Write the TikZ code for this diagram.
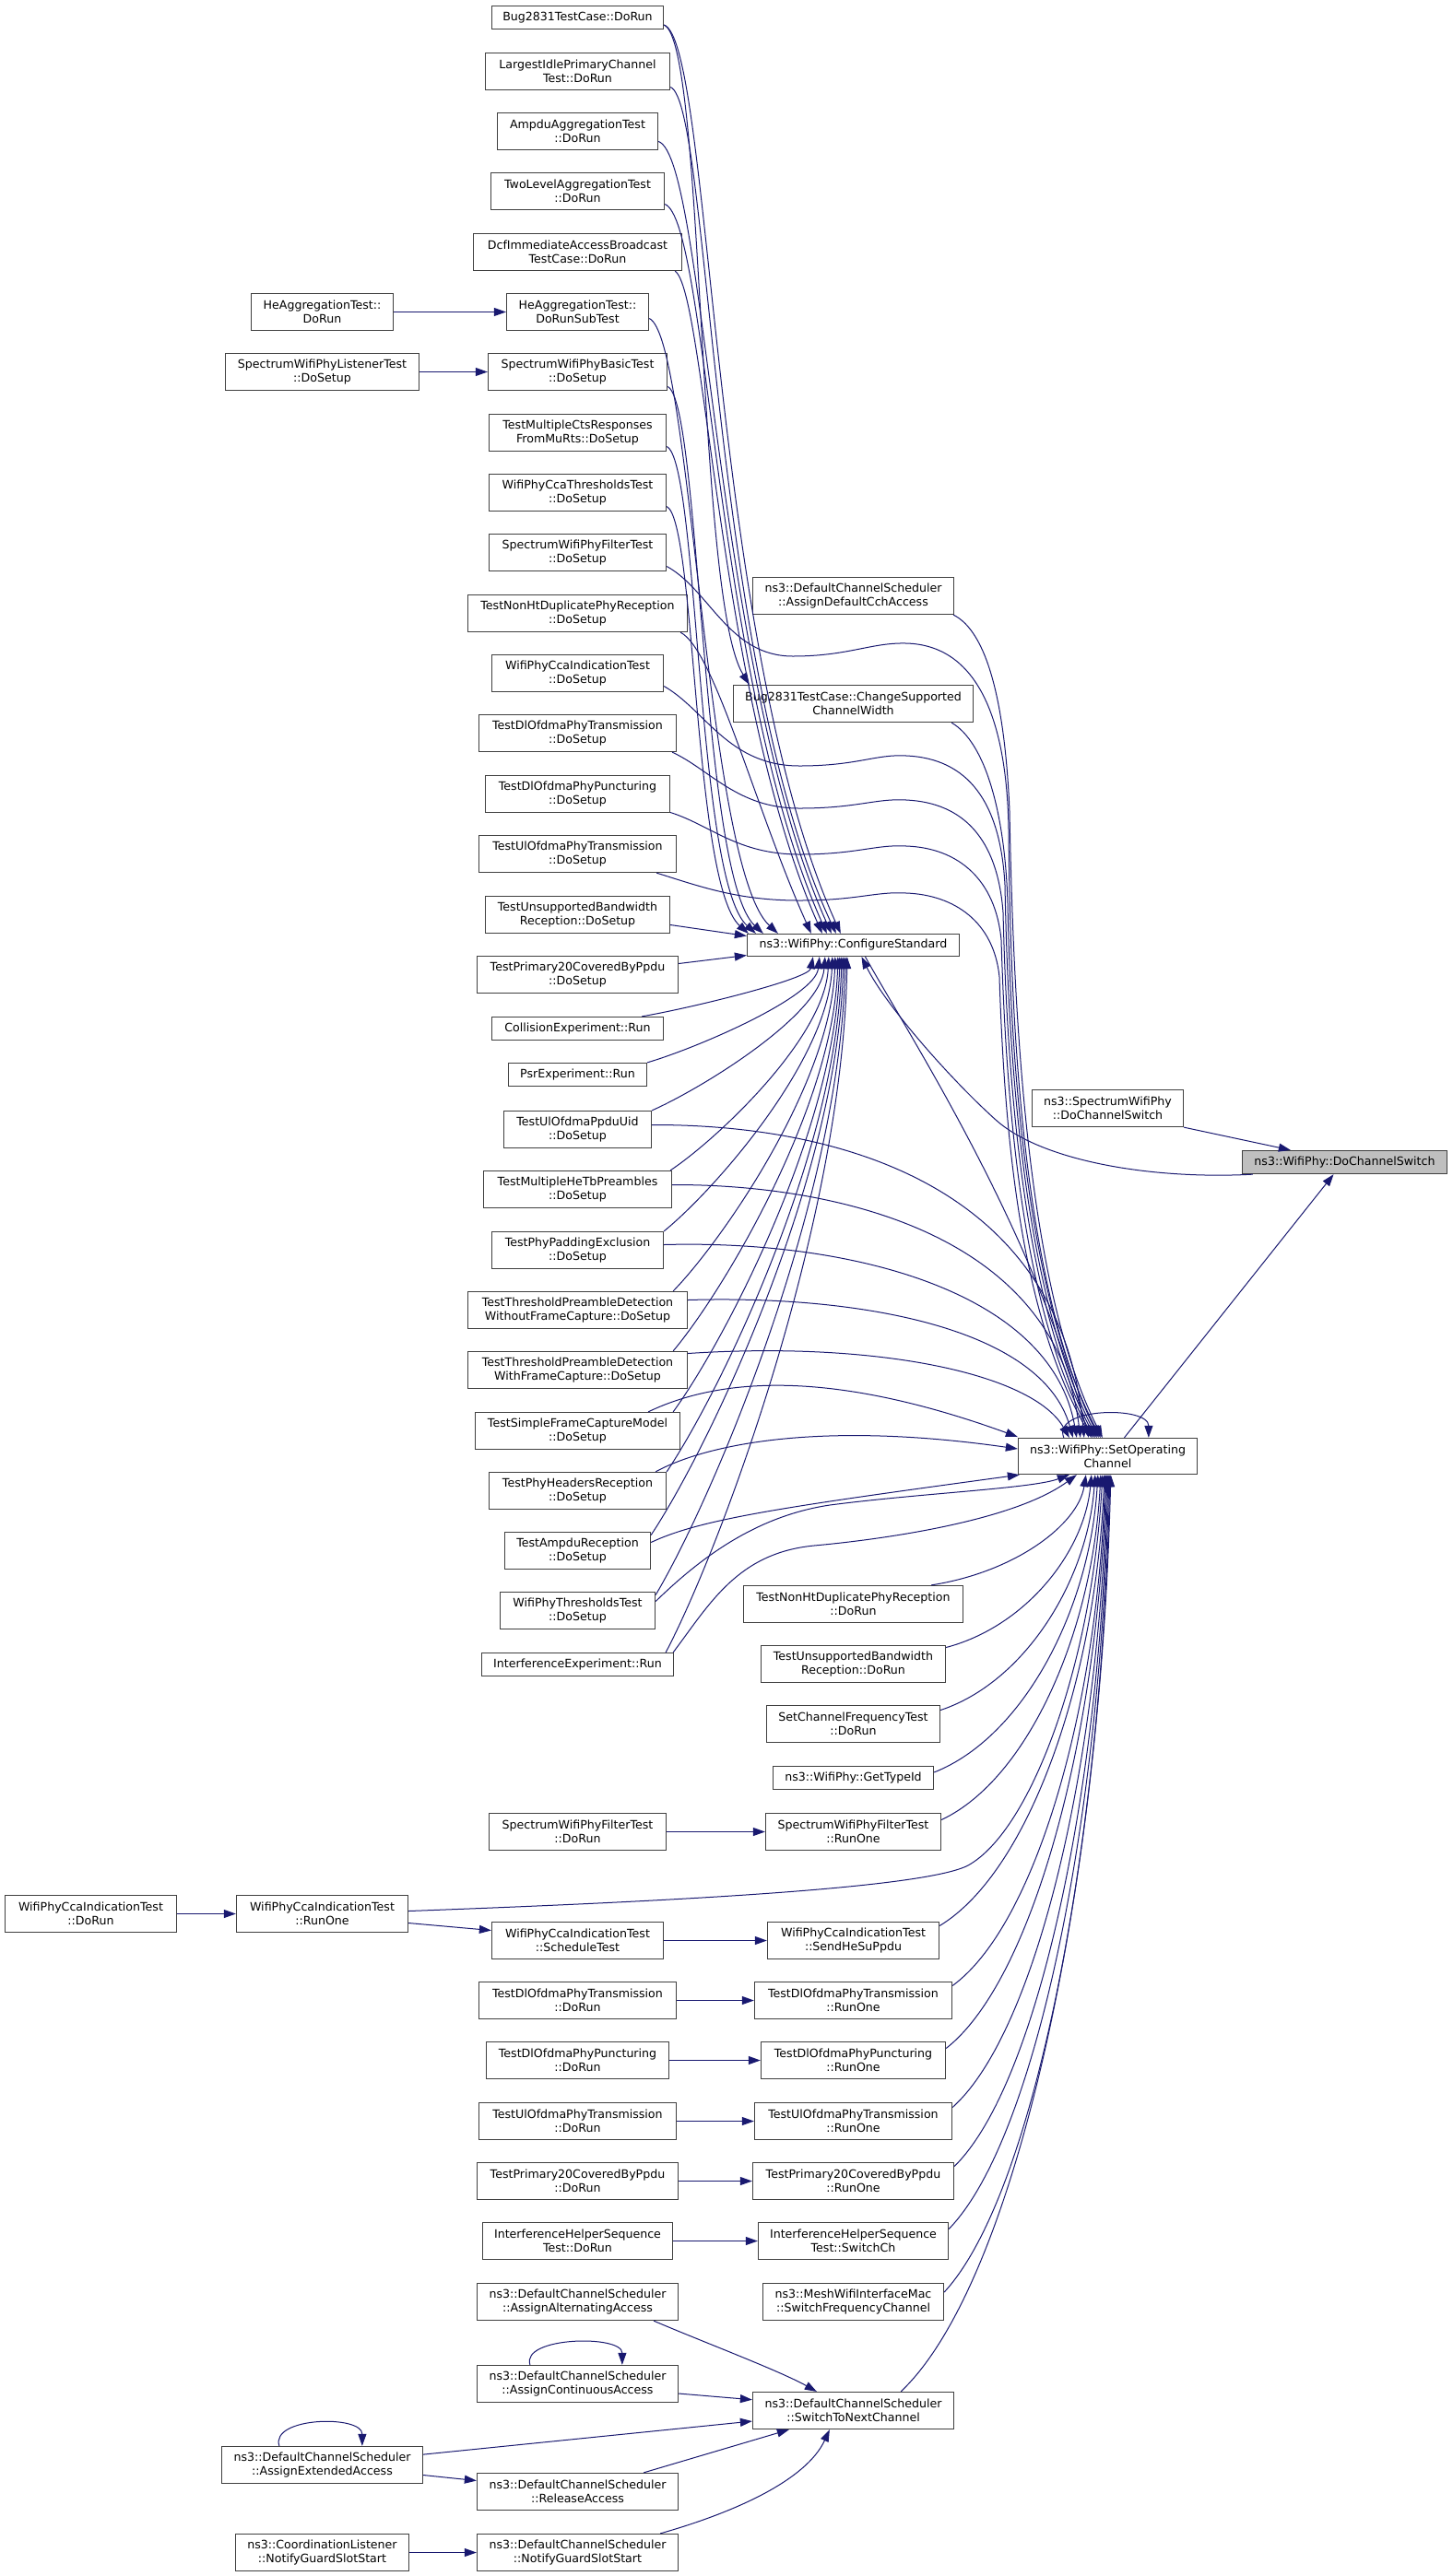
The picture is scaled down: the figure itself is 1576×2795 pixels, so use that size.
\documentclass[tikz,border=0pt]{standalone}
\usepackage{fontspec}
\setmainfont{DejaVu Sans}
\usetikzlibrary{arrows.meta,calc}
\definecolor{edgecol}{HTML}{191970}
\definecolor{boxcol}{HTML}{404040}
\definecolor{rootfill}{HTML}{BFBFBF}
\begin{document}
\begin{tikzpicture}[x=1pt,y=-1pt,
  box/.style={draw=boxcol,fill=white,line width=1.3pt,inner sep=0pt,align=center,
    font=\fontsize{12.6}{15}\selectfont,minimum height=40pt},
  one/.style={minimum height=25pt},
  edge/.style={draw=edgecol,line width=1pt,-{Triangle[length=13pt,width=9pt]}}]
\fill[white] (0,0) rectangle (1576,2795);
\useasboundingbox (0,0) rectangle (1576,2795);

% ---------- column B (upper) ----------
\node[box,one,minimum width=186pt] (b0) at (626.5,19) {Bug2831TestCase::DoRun};
\node[box,minimum width=200pt] (b1) at (626.5,77.5) {LargestIdlePrimaryChannel\\Test::DoRun};
\node[box,minimum width=174pt] (b2) at (626.5,142.5) {AmpduAggregationTest\\::DoRun};
\node[box,minimum width=188pt] (b3) at (626.5,207.5) {TwoLevelAggregationTest\\::DoRun};
\node[box,minimum width=226pt] (b4) at (626.5,273.5) {DcfImmediateAccessBroadcast\\TestCase::DoRun};
\node[box,minimum width=154pt] (b5) at (626.5,338.5) {HeAggregationTest::\\DoRunSubTest};
\node[box,minimum width=194pt] (b6) at (626.5,403.5) {SpectrumWifiPhyBasicTest\\::DoSetup};
\node[box,minimum width=192pt] (b7) at (626.5,469.5) {TestMultipleCtsResponses\\FromMuRts::DoSetup};
\node[box,minimum width=192pt] (b8) at (626.5,534.5) {WifiPhyCcaThresholdsTest\\::DoSetup};
\node[box,minimum width=192pt] (b9) at (626.5,599.5) {SpectrumWifiPhyFilterTest\\::DoSetup};
\node[box,minimum width=238pt] (b10) at (626.5,665.5) {TestNonHtDuplicatePhyReception\\::DoSetup};
\node[box,minimum width=186pt] (b11) at (626.5,730.5) {WifiPhyCcaIndicationTest\\::DoSetup};
\node[box,minimum width=214pt] (b12) at (626.5,795.5) {TestDlOfdmaPhyTransmission\\::DoSetup};
\node[box,minimum width=200pt] (b13) at (626.5,861.5) {TestDlOfdmaPhyPuncturing\\::DoSetup};
\node[box,minimum width=214pt] (b14) at (626.5,926.5) {TestUlOfdmaPhyTransmission\\::DoSetup};
\node[box,minimum width=200pt] (b15) at (626.5,992.5) {TestUnsupportedBandwidth\\Reception::DoSetup};
\node[box,minimum width=218pt] (b16) at (626.5,1057.5) {TestPrimary20CoveredByPpdu\\::DoSetup};
\node[box,one,minimum width=186pt] (b17) at (626.5,1116) {CollisionExperiment::Run};
\node[box,one,minimum width=150pt] (b18) at (626.5,1166) {PsrExperiment::Run};
\node[box,minimum width=160pt] (b19) at (626.5,1225.5) {TestUlOfdmaPpduUid\\::DoSetup};
\node[box,minimum width=204pt] (b20) at (626.5,1290.5) {TestMultipleHeTbPreambles\\::DoSetup};
\node[box,minimum width=186pt] (b21) at (626.5,1356.5) {TestPhyPaddingExclusion\\::DoSetup};
\node[box,minimum width=238pt] (b22) at (626.5,1421.5) {TestThresholdPreambleDetection\\WithoutFrameCapture::DoSetup};
\node[box,minimum width=238pt] (b23) at (626.5,1486.5) {TestThresholdPreambleDetection\\WithFrameCapture::DoSetup};
\node[box,minimum width=222pt] (b24) at (626.5,1552.5) {TestSimpleFrameCaptureModel\\::DoSetup};
\node[box,minimum width=192pt] (b25) at (626.5,1617.5) {TestPhyHeadersReception\\::DoSetup};
\node[box,minimum width=158pt] (b26) at (626.5,1682.5) {TestAmpduReception\\::DoSetup};
\node[box,minimum width=168pt] (b27) at (626.5,1747.5) {WifiPhyThresholdsTest\\::DoSetup};
\node[box,one,minimum width=208pt] (b28) at (626.5,1806) {InterferenceExperiment::Run};

% ---------- column B (lower) ----------
\node[box,minimum width=192pt] (l0) at (626.5,1987.5) {SpectrumWifiPhyFilterTest\\::DoRun};
\node[box,minimum width=186pt] (l1) at (626.5,2105.5) {WifiPhyCcaIndicationTest\\::ScheduleTest};
\node[box,minimum width=214pt] (l2) at (626.5,2170.5) {TestDlOfdmaPhyTransmission\\::DoRun};
\node[box,minimum width=198pt] (l3) at (626.5,2235.5) {TestDlOfdmaPhyPuncturing\\::DoRun};
\node[box,minimum width=214pt] (l4) at (626.5,2301.5) {TestUlOfdmaPhyTransmission\\::DoRun};
\node[box,minimum width=218pt] (l5) at (626.5,2366.5) {TestPrimary20CoveredByPpdu\\::DoRun};
\node[box,minimum width=206pt] (l6) at (626.5,2431.5) {InterferenceHelperSequence\\Test::DoRun};
\node[box,minimum width=218pt] (l7) at (626.5,2497.5) {ns3::DefaultChannelScheduler\\::AssignAlternatingAccess};
\node[box,minimum width=218pt] (l8) at (626.5,2586.5) {ns3::DefaultChannelScheduler\\::AssignContinuousAccess};
\node[box,minimum width=218pt] (l9) at (626.5,2703.5) {ns3::DefaultChannelScheduler\\::ReleaseAccess};
\node[box,minimum width=218pt] (l10) at (626.5,2769.5) {ns3::DefaultChannelScheduler\\::NotifyGuardSlotStart};

% ---------- column A ----------
\node[box,minimum width=154pt] (a0) at (349.5,338.5) {HeAggregationTest::\\DoRun};
\node[box,minimum width=210pt] (a1) at (349.5,403.5) {SpectrumWifiPhyListenerTest\\::DoSetup};
\node[box,minimum width=186pt] (a2) at (349.5,2076.5) {WifiPhyCcaIndicationTest\\::RunOne};
\node[box,minimum width=218pt] (a3) at (349.5,2674.5) {ns3::DefaultChannelScheduler\\::AssignExtendedAccess};
\node[box,minimum width=188pt] (a4) at (349.5,2769.5) {ns3::CoordinationListener\\::NotifyGuardSlotStart};
\node[box,minimum width=186pt] (a5) at (98.5,2076.5) {WifiPhyCcaIndicationTest\\::DoRun};

% ---------- column C ----------
\node[box,minimum width=218pt] (c0) at (925.5,646.5) {ns3::DefaultChannelScheduler\\::AssignDefaultCchAccess};
\node[box,minimum width=260pt] (c1) at (925.5,763.5) {Bug2831TestCase::ChangeSupported\\ChannelWidth};
\node[box,minimum height=24pt,minimum width=230pt] (cs) at (925.5,1025.5) {ns3::WifiPhy::ConfigureStandard};
\node[box,minimum width=238pt] (c2) at (925.5,1740.5) {TestNonHtDuplicatePhyReception\\::DoRun};
\node[box,minimum width=200pt] (c3) at (925.5,1805.5) {TestUnsupportedBandwidth\\Reception::DoRun};
\node[box,minimum width=188pt] (c4) at (925.5,1870.5) {SetChannelFrequencyTest\\::DoRun};
\node[box,one,minimum width=174pt] (c5) at (925.5,1929) {ns3::WifiPhy::GetTypeId};
\node[box,minimum width=190pt] (c6) at (925.5,1987.5) {SpectrumWifiPhyFilterTest\\::RunOne};
\node[box,minimum width=186pt] (c7) at (925.5,2105.5) {WifiPhyCcaIndicationTest\\::SendHeSuPpdu};
\node[box,minimum width=214pt] (c8) at (925.5,2170.5) {TestDlOfdmaPhyTransmission\\::RunOne};
\node[box,minimum width=200pt] (c9) at (925.5,2235.5) {TestDlOfdmaPhyPuncturing\\::RunOne};
\node[box,minimum width=214pt] (c10) at (925.5,2301.5) {TestUlOfdmaPhyTransmission\\::RunOne};
\node[box,minimum width=218pt] (c11) at (925.5,2366.5) {TestPrimary20CoveredByPpdu\\::RunOne};
\node[box,minimum width=206pt] (c12) at (925.5,2431.5) {InterferenceHelperSequence\\Test::SwitchCh};
\node[box,minimum width=196pt] (c13) at (925.5,2497.5) {ns3::MeshWifiInterfaceMac\\::SwitchFrequencyChannel};
\node[box,minimum width=218pt] (c14) at (925.5,2615.5) {ns3::DefaultChannelScheduler\\::SwitchToNextChannel};

% ---------- columns D, E ----------
\node[box,minimum width=164pt] (d0) at (1201.5,1202.5) {ns3::SpectrumWifiPhy\\::DoChannelSwitch};
\node[box,minimum height=39pt,minimum width=194pt] (so) at (1201.5,1580) {ns3::WifiPhy::SetOperating\\Channel};
\node[box,one,fill=rootfill,minimum width=222pt] (root) at (1458.5,1261) {ns3::WifiPhy::DoChannelSwitch};

% ---------- edges: upper column B -> ConfigureStandard ----------
\draw[edge] ($(b0.east)+(0,8)$) .. controls (772,45) and (770,700) .. ($(cs.north west)+(102,0)$);
\draw[edge] ($(b0.east)+(0,8)$) .. controls (765,45) and (755,650) .. ($(c1.north west)+(18,0)$);
\draw[edge] ($(b1.east)+(0,17)$) .. controls (770,110) and (770,720) .. ($(cs.north west)+(97,0)$);
\draw[edge] ($(b2.east)+(0,11)$) .. controls (765,170) and (775,730) .. ($(cs.north west)+(92,0)$);
\draw[edge] ($(b3.east)+(0,14)$) .. controls (768,240) and (775,740) .. ($(cs.north west)+(87,0)$);
\draw[edge] ($(b4.south east)+(-8,0)$) .. controls (765,315) and (780,760) .. ($(cs.north west)+(82,0)$);
\draw[edge] ($(b5.east)+(0,7)$) .. controls (750,365) and (765,940) .. ($(cs.north west)+(34,0)$);
\draw[edge] ($(b6.east)+(0,16)$) .. controls (760,435) and (760,950) .. ($(cs.north west)+(18,0)$);
\draw[edge] ($(b7.east)+(0,15)$) .. controls (758,500) and (755,955) .. ($(cs.north west)+(10,0)$);
\draw[edge] ($(b8.east)+(0,15)$) .. controls (755,565) and (752,960) .. ($(cs.north west)+(2,0)$);
\draw[edge] ($(b10.south east)+(-8,0)$) .. controls (775,705) and (820,880) .. ($(cs.north west)+(70,0)$);
\draw[edge] ($(b15.east)+(0,11)$) -- ($(cs.west)+(0,-10)$);
\draw[edge] ($(b16.east)+(0,-12)$) -- ($(cs.west)+(0,11)$);

% ---------- waves: column B -> SetOperatingChannel ----------
\draw[edge] ($(b9.east)+(0,15)$) .. controls (770,640) and (790,712) .. (860,712)
  .. controls (920,712) and (945,697) .. (983,698)
  .. controls (1060,700) and (1092,780) .. (1094,900)
  .. controls (1096,1150) and (1115,1400) .. ($(so.north west)+(88,0)$);
\draw[edge] ($(b11.east)+(0,14)$) .. controls (765,770) and (790,831) .. (867,831)
  .. controls (930,831) and (950,818) .. (983,820)
  .. controls (1050,823) and (1085,870) .. (1090,960)
  .. controls (1094,1180) and (1115,1410) .. ($(so.north west)+(86,0)$);
\draw[edge] ($(b12.south east)+(-5,0)$) .. controls (770,835) and (800,877) .. (867,877)
  .. controls (930,877) and (950,866) .. (983,868)
  .. controls (1045,871) and (1082,910) .. (1088,990)
  .. controls (1093,1200) and (1115,1420) .. ($(so.north west)+(84,0)$);
\draw[edge] ($(b13.east)+(0,20)$) .. controls (770,895) and (800,927) .. (867,927)
  .. controls (930,927) and (950,916) .. (983,918)
  .. controls (1040,920) and (1080,955) .. (1086,1020)
  .. controls (1092,1220) and (1112,1425) .. ($(so.north west)+(82,0)$);
\draw[edge] ($(b14.south east)+(-22,0)$) .. controls (760,962) and (800,977) .. (867,977)
  .. controls (930,977) and (950,967) .. (983,969)
  .. controls (1035,971) and (1078,1000) .. (1084,1060)
  .. controls (1090,1250) and (1110,1430) .. ($(so.north west)+(80,0)$);
\draw[edge] ($(c0.south east)+(-1,0)$) .. controls (1070,685) and (1090,760) .. (1095,880)
  .. controls (1100,1150) and (1120,1410) .. ($(so.north west)+(92,0)$);
\draw[edge] ($(c1.south east)+(-24,0)$) .. controls (1068,805) and (1090,880) .. (1093,980)
  .. controls (1097,1180) and (1118,1415) .. ($(so.north west)+(90,0)$);

% ---------- ConfigureStandard <-> SetOperatingChannel / DoChannelSwitch ----------
\draw[edge] ($(cs.south)+(13,0)$) .. controls (990,1130) and (1120,1330) .. ($(so.north west)+(77,0)$);
\draw[edge] ($(root.south west)+(12,0)$) .. controls (1250,1280) and (1130,1260) .. (1080,1215)
  .. controls (1030,1170) and (960,1090) .. ($(cs.south)+(9,0)$);
\draw[edge] ($(so.north)+(18,0)$) -- ($(root.south)+(-12,0)$);
\draw[edge] (d0.south east) -- ($(root.north west)+(53,0)$);
\draw[edge] ($(so.north west)+(50,0)$) .. controls (1140,1527) and (1246,1525) .. ($(so.north west)+(142,0)$);

% ---------- lower column B -> ConfigureStandard ----------
\draw[edge] ($(b17.north east)+(-24,0)$) .. controls (751.8,1093.3) and (877.4,1062.2) .. ($(cs.south west)+(72,0)$);
\draw[edge] (b18.north east) .. controls (758,1136.4) and (884.3,1081.5) .. ($(cs.south west)+(79,0)$);
\draw[edge] (b19.north east) .. controls (763.4,1179.8) and (890.3,1100.9) .. ($(cs.south west)+(85,0)$);
\draw[edge] ($(b20.north east)+(-2,0)$) .. controls (778.2,1235.7) and (894.8,1125.9) .. ($(cs.south west)+(89,0)$);
\draw[edge] (b21.north east) .. controls (774.9,1291.3) and (898.5,1150.7) .. ($(cs.south west)+(93,0)$);
\draw[edge] ($(b22.north east)+(-16,0)$) .. controls (782.8,1346.8) and (901.7,1175.5) .. ($(cs.south west)+(96,0)$);
\draw[edge] ($(b23.north east)+(-16,0)$) .. controls (783.7,1402.3) and (904.6,1200.4) .. ($(cs.south west)+(99,0)$);
\draw[edge] ($(b24.north east)+(-8,0)$) .. controls (784.3,1457.9) and (906.5,1225.2) .. ($(cs.south west)+(101,0)$);
\draw[edge] (b25.north east) .. controls (779.6,1513.1) and (908.2,1249.9) .. ($(cs.south west)+(103,0)$);
\draw[edge] ($(b26.east)+(0,-17)$) .. controls (768.7,1571.4) and (909.7,1276) .. ($(cs.south west)+(105,0)$);
\draw[edge] ($(b27.east)+(0,-17)$) .. controls (772.9,1626.7) and (911.8,1300.7) .. ($(cs.south west)+(107,0)$);
\draw[edge] ($(b28.north east)+(-9,0)$) .. controls (781.4,1680.4) and (914.1,1324.7) .. ($(cs.south west)+(109,0)$);

% ---------- lower column B -> SetOperatingChannel ----------
\draw[edge] ($(b19.east)+(0,-5)$) .. controls (900,1220) and (1150,1280) .. ($(so.north west)+(72,0)$);
\draw[edge] ($(b20.east)+(0,-5)$) .. controls (910,1285) and (1145,1340) .. ($(so.north west)+(68,0)$);
\draw[edge] ($(b21.east)+(0,-6)$) .. controls (920,1345) and (1140,1400) .. ($(so.north west)+(64,0)$);
\draw[edge] ($(b22.east)+(0,-11)$) .. controls (930,1405) and (1130,1440) .. ($(so.north west)+(60,0)$);
\draw[edge] ($(b23.east)+(0,-18)$) .. controls (950,1455) and (1120,1490) .. ($(so.north west)+(56,0)$);
\draw[edge] ($(b24.north east)+(-35,0)$) .. controls (780,1495) and (900,1485) .. ($(so.west)+(0,-21)$);
\draw[edge] ($(b25.north east)+(-12,0)$) .. controls (760,1570) and (880,1540) .. ($(so.west)+(0,-8)$);
\draw[edge] ($(b26.east)+(0,-9)$) .. controls (760,1648) and (850,1635) .. ($(so.south west)+(2,0)$);
\draw[edge] ($(b27.east)+(0,-10)$) .. controls (760,1690) and (820,1645) .. (900,1633)
  .. controls (1000,1620) and (1120,1615) .. ($(so.south west)+(56,0)$);
\draw[edge] ($(b28.north east)+(-1,0)$) .. controls (770,1740) and (800,1685) .. (883,1677)
  .. controls (960,1670) and (1100,1650) .. ($(so.south west)+(64,0)$);

% ---------- lower column C -> SetOperatingChannel ----------
\draw[edge] ($(c2.north east)+(-35,0)$) .. controls (1102,1705.5) and (1169.5,1653.7) .. ($(so.south west)+(74,0)$);
\draw[edge] ($(c3.east)+(0,-18)$) .. controls (1112.6,1764.7) and (1176.2,1683.9) .. ($(so.south west)+(80,0)$);
\draw[edge] ($(c4.east)+(0,-15)$) .. controls (1112,1825) and (1179.7,1714.7) .. ($(so.south west)+(84,0)$);
\draw[edge] ($(c5.east)+(0,-6)$) .. controls (1110.9,1884.4) and (1182.2,1745.2) .. ($(so.south west)+(87,0)$);
\draw[edge] ($(c6.east)+(0,-13)$) .. controls (1116,1929.8) and (1185.4,1768.4) .. ($(so.south west)+(90,0)$);
\draw[edge] ($(a2.east)+(0,-3)$) .. controls (700,2064) and (1000,2050) .. (1050,2024)
  .. controls (1120,1985) and (1185,1800) .. ($(so.south west)+(92,0)$);
\draw[edge] ($(c7.east)+(0,-16)$) .. controls (1116.9,2030.3) and (1189.1,1819.8) .. ($(so.south west)+(94,0)$);
\draw[edge] ($(c8.east)+(0,-16)$) .. controls (1124.1,2087.9) and (1190.8,1849.2) .. ($(so.south west)+(95,0)$);
\draw[edge] ($(c9.east)+(0,-13)$) .. controls (1121.1,2148.1) and (1191.3,1880) .. ($(so.south west)+(96,0)$);
\draw[edge] ($(c10.east)+(0,-15)$) .. controls (1125.2,2203.6) and (1192.7,1908.4) .. ($(so.south west)+(97,0)$);
\draw[edge] ($(c11.east)+(0,-16)$) .. controls (1126.7,2260.4) and (1193.7,1937.4) .. ($(so.south west)+(98,0)$);
\draw[edge] ($(c12.east)+(0,-13)$) .. controls (1124.6,2320.4) and (1194.4,1968.1) .. ($(so.south west)+(99,0)$);
\draw[edge] ($(c13.east)+(0,-10.5)$) .. controls (1123,2380) and (1195.1,1998.6) .. ($(so.south west)+(100,0)$);
\draw[edge] ($(c14.north east)+(-58,0)$) .. controls (1102.5,2476.1) and (1193.7,2047.7) .. ($(so.south west)+(101,0)$);

% ---------- short edges ----------
\draw[edge] (a0) -- (b5);
\draw[edge] (a1) -- (b6);
\draw[edge] (l0) -- (c6);
\draw[edge] (a5) -- (a2);
\draw[edge] ($(a2.east)+(0,10)$) -- ($(l1.west)+(0,-11)$);
\draw[edge] (l1) -- (c7);
\draw[edge] (l2) -- (c8);
\draw[edge] (l3) -- (c9);
\draw[edge] (l4) -- (c10);
\draw[edge] (l5) -- (c11);
\draw[edge] (l6) -- (c12);
\draw[edge] ($(l7.south east)+(-27,0)$) .. controls (760,2540) and (845,2572) .. ($(c14.north west)+(70,0)$);
\draw[edge] ($(l8.north west)+(58,0)$) .. controls (565,2535) and (675,2533) .. ($(l8.north west)+(158,0)$);
\draw[edge] ($(l8.east)+(0,10.5)$) -- ($(c14.west)+(0,-11.8)$);
\draw[edge] ($(a3.north west)+(63,0)$) .. controls (293,2622) and (393,2620) .. ($(a3.north west)+(153,0)$);
\draw[edge] ($(a3.east)+(0,-11.4)$) -- ($(c14.west)+(0,11.5)$);
\draw[edge] ($(a3.east)+(0,11)$) -- ($(l9.west)+(0,-12)$);
\draw[edge] ($(l9.north east)+(-38,0)$) -- ($(c14.south west)+(40,0)$);
\draw[edge] ($(l10.north east)+(-20,0)$) .. controls (800,2725) and (875,2690) .. ($(c14.south west)+(84,0)$);
\draw[edge] (a4) -- (l10);
\end{tikzpicture}
\end{document}
